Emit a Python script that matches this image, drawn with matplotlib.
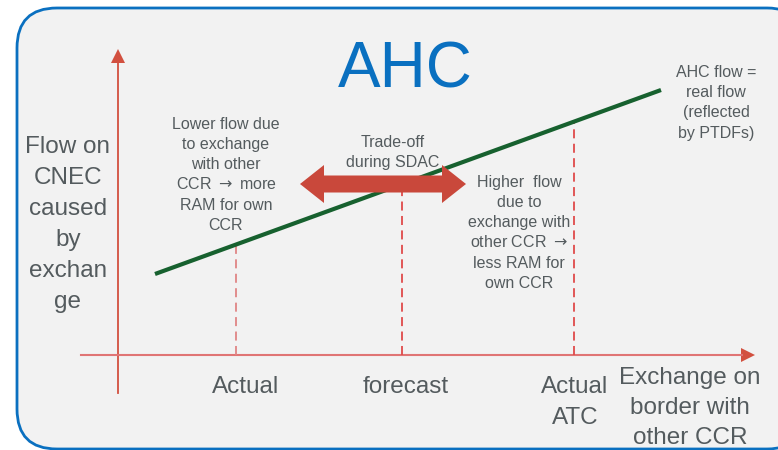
import matplotlib
matplotlib.use('Agg')
import matplotlib.pyplot as plt
from matplotlib.patches import FancyBboxPatch, FancyArrow, Polygon

plt.rcParams['font.family'] = ['Liberation Sans', 'DejaVu Sans']
plt.rcParams['mathtext.fontset'] = 'dejavusans'

# diagram data (pixel-like coordinates, y grows downwards)
flow_x = [155, 661]
flow_y = [274, 90]
marker_x = [236, 402, 574]
marker_labels = ['Actual', 'forecast', 'Actual\nATC']
marker_label_x = [246, 406, 575]
marker_label_y = [386, 386, 386]

gray = '#545b5e'
red = '#c9483b'
blue = '#0a70c0'
arrow = r'$\rightarrow$'

fig = plt.figure(figsize=(7.78, 4.5), dpi=100)
ax = fig.add_axes([0, 0, 1, 1])
ax.set_xlim(0, 778)
ax.set_ylim(450, 0)
ax.axis('off')


def block(x, y_first, txt, step, size):
    #draw lines one by one on their baseline so spacing stays even
    off = size * 100 / 72 * 0.3
    for k, line in enumerate(txt.split('\n')):
        ax.text(x, y_first + k * step + off, line, ha='center', va='baseline',
                fontsize=size, color=gray, zorder=5)


#background box
box = FancyBboxPatch((17, 8), 790, 441, boxstyle='round,pad=0,rounding_size=40',
                     fc='#f2f2f2', ec=blue, lw=2, zorder=0)
ax.add_patch(box)

#axes arrows
ax.plot([118, 118], [393, 62], color='#d2503f', lw=1.3)
ax.add_patch(Polygon([[111, 63], [125, 63], [118, 49]], closed=True, color='#d2503f', lw=0))
ax.plot([81, 742], [355, 355], color='#e07575', lw=1.5)
ax.add_patch(Polygon([[741, 348], [741, 362], [755, 355]], closed=True, color='#d2503f', lw=0))

#green line
ax.plot(flow_x, flow_y, color='#17612f', lw=3, solid_capstyle='butt', zorder=3)

#dashed markers up to the line
slope = (flow_y[1] - flow_y[0]) / (flow_x[1] - flow_x[0])
for i, mx in enumerate(marker_x):
    y_top = flow_y[0] + slope * (mx - flow_x[0])
    col = '#e08585' if i == 0 else '#e04a4a'
    ax.plot([mx, mx], [355, y_top], color=col, lw=1.3, ls=(0, (5, 3)), zorder=2)
    block(marker_label_x[i], marker_label_y[i], marker_labels[i], 31, 17.5)

#double arrow
ax.add_patch(FancyArrow(383, 184, 83, 0, width=17, head_width=38, head_length=24,
                        length_includes_head=True, color=red, lw=0, zorder=4))
ax.add_patch(FancyArrow(383, 184, -83, 0, width=17, head_width=38, head_length=24,
                        length_includes_head=True, color=red, lw=0, zorder=4))

#texts
ax.text(405, 70, 'AHC', ha='center', va='center', fontsize=46, color=blue)
block(68, 146, 'Flow on\nCNEC\ncaused\nby\nexchan\nge', 31, 17.5)
block(226, 124, 'Lower flow due\nto exchange\nwith other\nCCR ' + arrow + ' more\nRAM for own\nCCR', 20.2, 11.5)
block(393, 142, 'Trade-off\nduring SDAC', 20.5, 11.5)
block(519, 182, 'Higher  flow\ndue to\nexchange with\nother CCR ' + arrow + '\nless RAM for\nown CCR', 20.2, 11.5)
block(716, 72, 'AHC flow =\nreal flow\n(reflected\nby PTDFs)', 20.3, 11.5)
block(690, 377, 'Exchange on\nborder with\nother CCR', 30, 17.5)

fig.savefig('out.png', dpi=100, facecolor='white')
